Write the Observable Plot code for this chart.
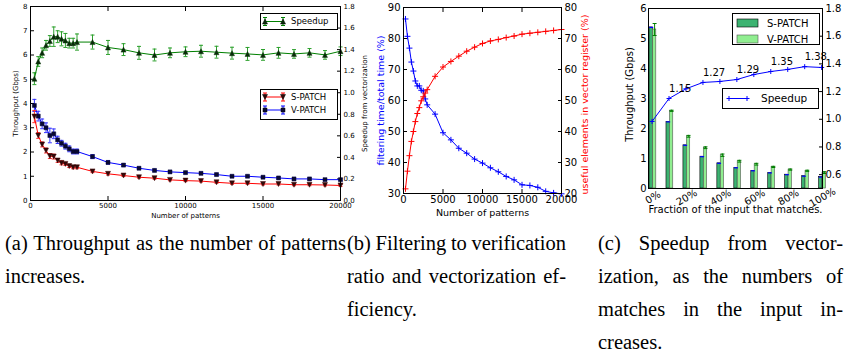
<!DOCTYPE html>
<html><head><meta charset="utf-8">
<script src="https://cdn.jsdelivr.net/npm/d3@7"></script>
<script src="https://cdn.jsdelivr.net/npm/@observablehq/plot@0.6"></script>
<style>
body{margin:0;background:#fff;}
#root{position:relative;width:846px;height:357px;overflow:hidden;background:#fff;}
.panel{position:absolute;top:0;}
.cap{position:absolute;font-family:"Liberation Serif","Times New Roman",serif;font-size:20.5px;line-height:33px;color:#000;white-space:nowrap;}
</style></head><body><div id="root"></div><script>
// ---------- Panel (a) data ----------
const patternsA = [250,500,750,1000,1250,1500,1750,2000,2250,2500,2750,3000,4000,5000,6000,7000,8000,9000,10000,11000,12000,13000,14000,15000,16000,17000,18000,19000,20000];
const speedupA = [1.13,1.29,1.37,1.44,1.48,1.52,1.52,1.50,1.485,1.46,1.46,1.47,1.47,1.42,1.40,1.37,1.35,1.37,1.38,1.385,1.376,1.367,1.36,1.351,1.37,1.36,1.37,1.351,1.385];
const speedupErr = [0.055,0.045,0.045,0.045,0.05,0.09,0.055,0.065,0.065,0.045,0.045,0.075,0.065,0.065,0.055,0.06,0.055,0.045,0.045,0.055,0.055,0.055,0.06,0.05,0.05,0.04,0.04,0.04,0.04];
const vPatchA = [3.92,3.48,3.16,3.00,2.68,2.75,2.50,2.36,2.24,2.13,2.02,2.02,1.81,1.57,1.46,1.33,1.24,1.18,1.15,1.12,1.07,1.00,1.00,0.96,0.93,0.89,0.89,0.86,0.86];
const vErrA = [0.25,0.2,0.2,0.2,0.3,0.2,0.15,0.12,0.12,0.12,0.1,0.1,0.08,0.07,0.06,0.05,0.05,0.05,0.05,0.05,0.05,0.04,0.04,0.04,0.04,0.04,0.04,0.04,0.04];
const sPatchA = [3.46,2.68,2.31,2.06,1.83,1.81,1.65,1.55,1.51,1.42,1.37,1.37,1.20,1.10,1.03,0.96,0.92,0.85,0.82,0.80,0.75,0.71,0.71,0.68,0.68,0.65,0.65,0.64,0.62];
const sErrA = [0.25,0.12,0.1,0.1,0.1,0.1,0.08,0.08,0.06,0.06,0.06,0.06,0.05,0.05,0.04,0.04,0.04,0.04,0.04,0.04,0.04,0.04,0.04,0.04,0.04,0.04,0.04,0.04,0.04];
const xTicksA = [0,5000,10000,15000,20000];
const yTicksA = [0,1,2,3,4,5,6,7,8];
const ySpeedTicksA = [0,0.2,0.4,0.6,0.8,1.0,1.2,1.4,1.6,1.8];

// ---------- Panel (b) data ----------
const patternsB = [250,500,750,1000,1250,1500,1750,2000,2250,2500,2750,3000,4000,5000,6000,7000,8000,9000,10000,11000,12000,13000,14000,15000,16000,17000,18000,19000,20000];
const filterRatio = [86.3,80.7,76.9,72.4,69.5,66.3,64.7,64.7,63.3,63.1,60.5,58.6,55.6,49.6,47.3,44.6,43.0,41.1,39.8,38.3,37.0,35.5,34.4,32.8,32.6,32.0,30.7,30.2,29.9];
const usefulElems = [21.5,27.2,32.2,36.8,40.0,43.2,45.8,47.7,49.9,51.2,52.4,53.5,57.8,60.8,62.6,64.3,65.9,67.2,68.4,69.2,69.7,70.3,70.8,71.4,71.7,72.0,72.3,72.6,72.9];
const xTicksB = [0,5000,10000,15000,20000];
const yLeftTicksB = [30,40,50,60,70,80,90];
const yRightTicksB = [20,30,40,50,60,70,80];

// ---------- Panel (c) data ----------
const matchFraction = ["0%","10%","20%","30%","40%","50%","60%","70%","80%","90%","100%"];
const sThrC = [5.37,2.22,1.44,1.06,0.84,0.69,0.59,0.52,0.46,0.41,0.38];
const vThrC = [5.30,2.59,1.74,1.36,1.11,0.91,0.81,0.72,0.63,0.59,0.53];
const vErrC = [0.2,0.02,0.03,0.03,0.04,0.03,0.03,0.02,0.02,0.02,0.03];
const speedupC = [0.984,1.15,1.22,1.266,1.273,1.287,1.323,1.345,1.36,1.38,1.374];
const speedupLabelsC = [null,"1.15",null,"1.27",null,"1.29",null,"1.35",null,"1.38",null];
const xTickLabelsC = ["0%",null,"20%",null,"40%",null,"60%",null,"80%",null,"100%"];
const yLeftTicksC = [0,1,2,3,4,5,6];
const yRightTicksC = [0.6,0.8,1.0,1.2,1.4,1.6,1.8];

// ---------- symbols ----------
const R = s => Math.sqrt(s/Math.PI);
const capSym = {draw(c,s){const r=R(s); c.moveTo(-r,0); c.lineTo(r,0);}};
const triUp = {draw(c,s){const r=R(s); c.moveTo(0,-r); c.lineTo(r,r); c.lineTo(-r,r); c.closePath();}};
const triDown = {draw(c,s){const r=R(s); c.moveTo(0,r); c.lineTo(r,-r); c.lineTo(-r,-r); c.closePath();}};
const sq = {draw(c,s){const r=R(s); c.rect(-r,-r,2*r,2*r);}};
const plusSym = {draw(c,s){const r=R(s); c.moveTo(-r,0); c.lineTo(r,0); c.moveTo(0,-r); c.lineTo(0,r);}};

const root = document.getElementById("root");
function place(svg, left){ svg.classList.add("panel"); svg.style.left = left+"px"; root.appendChild(svg); return svg; }

function errMarks(data, x, lo, hi, color, capR){
  return [
    Plot.ruleX(data, {x, y1: lo, y2: hi, stroke: color, strokeWidth: 1}),
    Plot.dot(data, {x, y: lo, symbol: capSym, r: capR, stroke: color, strokeWidth: 1}),
    Plot.dot(data, {x, y: hi, symbol: capSym, r: capR, stroke: color, strokeWidth: 1})
  ];
}

// ---------- Panel (a) ----------
const K = 8/1.8;
const rowsA = patternsA.map((p,i)=>({
  p, sp: speedupA[i]*K, spLo: (speedupA[i]-speedupErr[i])*K, spHi: (speedupA[i]+speedupErr[i])*K,
  v: vPatchA[i], vLo: vPatchA[i]-vErrA[i], vHi: vPatchA[i]+vErrA[i],
  s: sPatchA[i], sLo: sPatchA[i]-sErrA[i], sHi: sPatchA[i]+sErrA[i]
}));
const svgA = Plot.plot({
  width: 380, height: 222, marginLeft: 30, marginRight: 40, marginTop: 6, marginBottom: 22,
  style: {fontFamily: "DejaVu Sans", fontSize: "7px", background: "transparent", overflow: "visible"},
  x: {domain: [0, 20000]}, y: {domain: [0, 8]},
  marks: [
    Plot.axisX(xTicksA, {anchor: "bottom", tickSize: -4, tickPadding: 7, tickFormat: d => String(d), label: null}),
    Plot.axisX(xTicksA, {anchor: "top", tickSize: -4, tickFormat: () => "", label: null}),
    Plot.axisY(yTicksA, {anchor: "left", tickSize: -4, tickPadding: 7, tickFormat: d => String(d), label: null}),
    Plot.axisY(ySpeedTicksA.map(d => d*K), {anchor: "right", tickSize: -4, tickPadding: 7, tickFormat: d => (d/K).toFixed(1), label: null}),
    ...errMarks(rowsA, "p", "spLo", "spHi", "#2ca02c", 2),
    Plot.line(rowsA, {x: "p", y: "sp", stroke: "green", strokeWidth: 1}),
    Plot.dot(rowsA, {x: "p", y: "sp", symbol: triUp, r: 2.5, fill: "#0a2a0a", stroke: "#0a3a0a", strokeWidth: 0.5}),
    ...errMarks(rowsA, "p", "vLo", "vHi", "#3333ff", 2),
    Plot.line(rowsA, {x: "p", y: "v", stroke: "blue", strokeWidth: 1}),
    Plot.dot(rowsA, {x: "p", y: "v", symbol: sq, r: 2, fill: "#0a0a30", stroke: "#000040", strokeWidth: 0.5}),
    ...errMarks(rowsA, "p", "sLo", "sHi", "#ff3333", 2),
    Plot.line(rowsA, {x: "p", y: "s", stroke: "red", strokeWidth: 1}),
    Plot.dot(rowsA, {x: "p", y: "s", symbol: triDown, r: 2.5, fill: "#300a0a", stroke: "#400000", strokeWidth: 0.5}),
    Plot.frame({stroke: "black"}),
    Plot.text(["Number of patterns"], {frameAnchor: "bottom", dy: 17, fontSize: 7}),
    Plot.text(["Throughput (Gbps)"], {frameAnchor: "left", textAnchor: "middle", dx: -15, rotate: -90, fontSize: 7}),
    Plot.text(["Speedup from vectorization"], {frameAnchor: "right", textAnchor: "middle", dx: 24, rotate: -90, fontSize: 7})
  ]
});
place(svgA, 0);

function legendLine(g, x1, x2, y, color, sym, r, fill, err, capR){
  g.append("line").attr("x1",x1).attr("x2",x2).attr("y1",y).attr("y2",y).attr("stroke",color).attr("stroke-width",1);
  for (const x of [x1, x2]) {
    if (err) {
      g.append("line").attr("x1",x).attr("x2",x).attr("y1",y-err).attr("y2",y+err).attr("stroke",color);
      g.append("line").attr("x1",x-capR).attr("x2",x+capR).attr("y1",y-err).attr("y2",y-err).attr("stroke",color);
      g.append("line").attr("x1",x-capR).attr("x2",x+capR).attr("y1",y+err).attr("y2",y+err).attr("stroke",color);
    }
    g.append("path").attr("transform",`translate(${x},${y})`).attr("d", d3.symbol(sym, Math.PI*r*r)()).attr("fill", fill).attr("stroke", fill==="none"?color:"#000").attr("stroke-width", fill==="none"?1:0.5);
  }
}
{
  const g = d3.select(svgA).append("g").attr("font-family","DejaVu Sans").attr("font-size","8.5px").attr("text-anchor","start");
  g.append("rect").attr("x",260.5).attr("y",13.5).attr("width",77).attr("height",16).attr("fill","white").attr("stroke","black");
  legendLine(g, 265, 283, 21.5, "green", triUp, 2.5, "#0a2a0a", 4, 2);
  g.append("text").attr("x",291).attr("y",21.5).attr("dy","0.35em").text("Speedup");
  g.append("rect").attr("x",260.5).attr("y",89.5).attr("width",77).attr("height",30).attr("fill","white").attr("stroke","black");
  legendLine(g, 265, 283, 97, "red", triDown, 2.5, "#300a0a", 4, 2);
  g.append("text").attr("x",291).attr("y",97).attr("dy","0.35em").text("S-PATCH");
  legendLine(g, 265, 283, 110, "blue", sq, 2, "#0a0a30", 4, 2);
  g.append("text").attr("x",291).attr("y",110).attr("dy","0.35em").text("V-PATCH");
}

// ---------- Panel (b) ----------
const rowsB = patternsB.map((p,i)=>({p, f: filterRatio[i], u: usefulElems[i] + 10}));
const svgB = Plot.plot({
  width: 230, height: 222, marginLeft: 33, marginRight: 39, marginTop: 7, marginBottom: 29,
  style: {fontFamily: "DejaVu Sans", fontSize: "10px", background: "transparent", overflow: "visible"},
  x: {domain: [0, 20000]}, y: {domain: [30, 90]},
  marks: [
    Plot.axisX(xTicksB, {anchor: "bottom", tickSize: -4, tickPadding: 6, tickFormat: d => String(d), label: null}),
    Plot.axisX(xTicksB, {anchor: "top", tickSize: -4, tickFormat: () => "", label: null}),
    Plot.axisY(yLeftTicksB, {anchor: "left", tickSize: -4, tickPadding: 7, tickFormat: d => String(d), label: null}),
    Plot.axisY(yRightTicksB.map(d => d + 10), {anchor: "right", tickSize: -4, tickPadding: 7, tickFormat: d => String(d - 10), label: null}),
    Plot.line(rowsB, {x: "p", y: "f", stroke: "blue", strokeWidth: 1}),
    Plot.dot(rowsB, {x: "p", y: "f", symbol: plusSym, r: 3, stroke: "blue", strokeWidth: 1}),
    Plot.line(rowsB, {x: "p", y: "u", stroke: "red", strokeWidth: 1}),
    Plot.dot(rowsB, {x: "p", y: "u", symbol: plusSym, r: 3, stroke: "red", strokeWidth: 1}),
    Plot.frame({stroke: "black"}),
    Plot.text(["Number of patterns"], {frameAnchor: "bottom", dy: 22, fontSize: 9.5}),
    Plot.text(["filtering time/total time (%)"], {frameAnchor: "left", textAnchor: "middle", dx: -23, rotate: -90, fontSize: 9.5, fill: "blue"}),
    Plot.text(["useful elements in vector register (%)"], {frameAnchor: "right", textAnchor: "middle", dx: 23, dy: 4, rotate: -90, fontSize: 9.5, fill: "red"})
  ]
});
place(svgB, 370);

// ---------- Panel (c) ----------
const KC = v => (v - 0.5) / 1.3 * 6;
const rowsC = matchFraction.map((f,i)=>({
  i, f, s: sThrC[i], v: vThrC[i], vLo: vThrC[i]-vErrC[i], vHi: vThrC[i]+vErrC[i],
  sp: KC(speedupC[i]), lab: speedupLabelsC[i], tick: xTickLabelsC[i]
}));
const svgC = Plot.plot({
  width: 246, height: 222, marginLeft: 48, marginRight: 24, marginTop: 8, marginBottom: 34,
  style: {fontFamily: "DejaVu Sans", fontSize: "10px", background: "transparent", overflow: "visible"},
  x: {domain: [-0.06, 10.2]}, y: {domain: [0, 6]},
  marks: [
    Plot.axisX([], {anchor: "bottom", label: null}),
    Plot.axisY(yLeftTicksC, {anchor: "left", tickSize: -4, tickPadding: 6, tickFormat: d => String(d), label: null}),
    Plot.axisY(yRightTicksC.map(KC), {anchor: "right", tickSize: -4, tickPadding: 7, tickFormat: d => (d/6*1.3+0.5).toFixed(1), label: null}),
    Plot.rect(rowsC, {x1: d => d.i, x2: d => d.i + 0.2, y1: 0, y2: "s", fill: "#3cb371", stroke: "black", strokeWidth: 0.6}),
    Plot.rect(rowsC, {x1: d => d.i + 0.2, x2: d => d.i + 0.4, y1: 0, y2: "v", fill: "#90ee90", stroke: "#555", strokeWidth: 0.6}),
    Plot.dot(rowsC, {x: d => d.i + 0.1, y: "s", symbol: capSym, r: 2, stroke: "blue", strokeWidth: 1.2}),
    ...errMarks(rowsC, d => d.i + 0.3, "vLo", "vHi", "green", 2),
    Plot.line(rowsC, {x: d => d.i + 0.15, y: "sp", stroke: "blue", strokeWidth: 1}),
    Plot.dot(rowsC, {x: d => d.i + 0.15, y: "sp", symbol: plusSym, r: 2.5, stroke: "blue", strokeWidth: 1}),
    Plot.text(rowsC.filter(d => d.lab), {x: d => d.i + 0.15, y: "sp", text: "lab", textAnchor: "start", dy: -10, fontSize: 10}),
    Plot.text(rowsC.filter(d => d.tick), {x: d => d.i + 0.2, y: () => 0, text: "tick", dy: 9, rotate: -30, fontSize: 10}),
    Plot.frame({stroke: "black"}),
    Plot.text(["Fraction of the input that matches."], {frameAnchor: "bottom", dy: 24, fontSize: 10}),
    Plot.text(["Throughput (Gbps)"], {frameAnchor: "left", textAnchor: "middle", dx: -19, dy: -4, rotate: -90, fontSize: 10})
  ]
});
place(svgC, 600);
{
  const g = d3.select(svgC).append("g").attr("font-family","DejaVu Sans").attr("font-size","10px").attr("text-anchor","start");
  g.append("rect").attr("x",132.5).attr("y",13.5).attr("width",87).attr("height",31).attr("fill","white").attr("stroke","black");
  g.append("rect").attr("x",137).attr("y",19).attr("width",21).attr("height",8).attr("fill","#3cb371").attr("stroke","black").attr("stroke-width",0.6);
  g.append("text").attr("x",167).attr("y",23).attr("dy","0.35em").text("S-PATCH");
  g.append("rect").attr("x",137).attr("y",35).attr("width",21).attr("height",8).attr("fill","#90ee90").attr("stroke","#555").attr("stroke-width",0.6);
  g.append("text").attr("x",167).attr("y",39).attr("dy","0.35em").text("V-PATCH");
  g.append("rect").attr("x",122.5).attr("y",88.5).attr("width",96).attr("height",20).attr("fill","white").attr("stroke","black");
  legendLine(g, 129, 147, 98.5, "blue", plusSym, 2.5, "none", 0, 0);
  g.append("text").attr("x",161).attr("y",98.5).attr("dy","0.35em").attr("font-size","10.5px").text("Speedup");
}

// ---------- captions ----------
function cap(text, left, top, width, justify){
  const d = document.createElement("div");
  d.className = "cap";
  d.style.left = left + "px"; d.style.top = top + "px";
  d.textContent = text; root.appendChild(d);
  if (justify) {
    const w = d.getBoundingClientRect().width;
    const n = (text.match(/ /g) || []).length;
    if (n) d.style.wordSpacing = ((width - w) / n) + "px";
  }
}
const L1 = 227, LH = 33;
cap("(a) Throughput as the number of patterns", 5, L1, 341, true);
cap("increases.", 5, L1 + LH, 0, false);
cap("(b) Filtering to verification", 347, L1, 219, true);
cap("ratio and vectorization ef-", 347, L1 + LH, 219, true);
cap("ficiency.", 347, L1 + 2*LH, 0, false);
cap("(c) Speedup from vector-", 598, L1, 245, true);
cap("ization, as the numbers of", 598, L1 + LH, 245, true);
cap("matches in the input in-", 598, L1 + 2*LH, 245, true);
cap("creases.", 598, L1 + 3*LH, 0, false);
</script></body></html>
